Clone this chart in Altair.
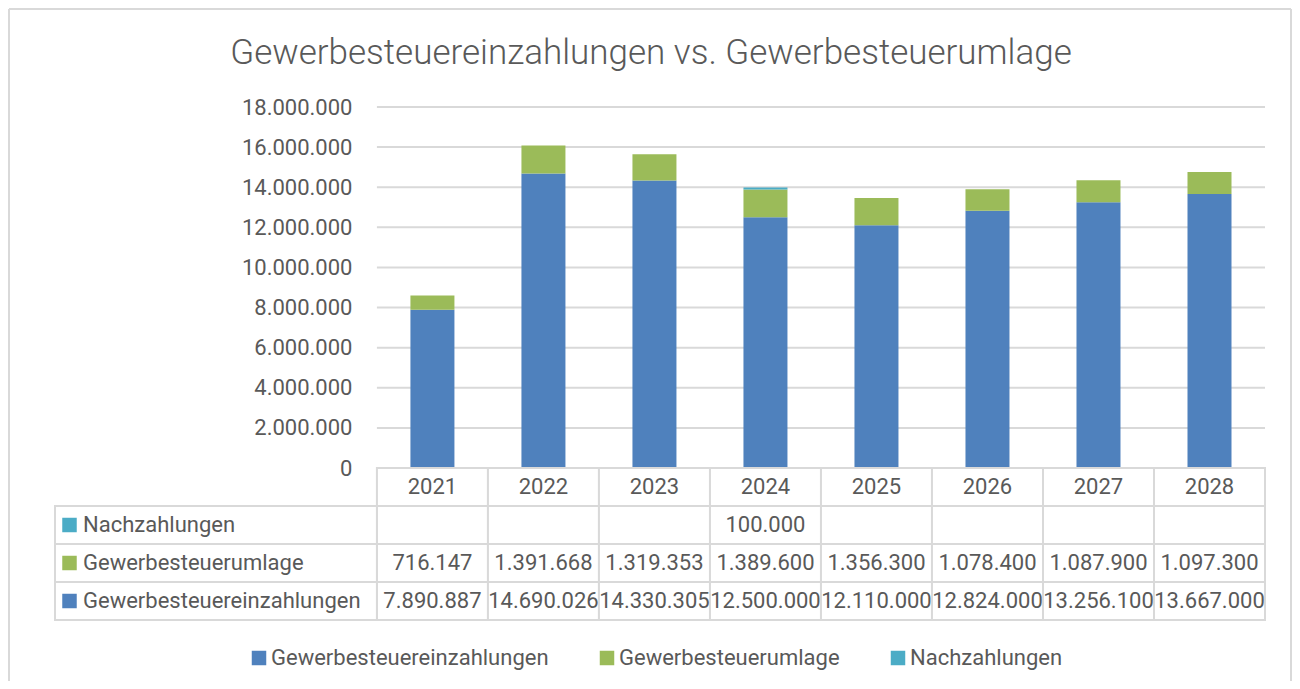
import altair as alt
import pandas as pd

# ---------------- data ----------------
YEARS = ["2021", "2022", "2023", "2024", "2025", "2026", "2027", "2028"]
SERIES = ["Gewerbesteuereinzahlungen", "Gewerbesteuerumlage", "Nachzahlungen"]
EINZAHLUNGEN = [7890887, 14690026, 14330305, 12500000, 12110000, 12824000, 13256100, 13667000]
UMLAGE = [716147, 1391668, 1319353, 1389600, 1356300, 1078400, 1087900, 1097300]
NACHZAHLUNGEN = [None, None, None, 100000, None, None, None, None]
Y_TICKS = [0, 2000000, 4000000, 6000000, 8000000, 10000000, 12000000, 14000000, 16000000, 18000000]
TITLE = "Gewerbesteuereinzahlungen vs. Gewerbesteuerumlage"
HEADER_ROW = "Jahr"

# ---------------- style / layout ----------------
COLORS = ["#4F81BD", "#9BBB59", "#4BACC6"]
TEXT = "#595959"
LINE = "#D9D9D9"
FONT = "Roboto"
FS = 22
N = len(YEARS)
LABEL_COLS = 2.9          # width of the label column, in year-column units
W = 1210
VALUE_H = 361
ROW_H = 38
LABEL_W_PX = W * LABEL_COLS / (N + LABEL_COLS)


def de(v):
    return f"{v:,}".replace(",", ".")


values = dict(zip(SERIES, [EINZAHLUNGEN, UMLAGE, NACHZAHLUNGEN]))

rows = []
for s_i, s in enumerate(SERIES):
    for c, (yr, v) in enumerate(zip(YEARS, values[s])):
        if v is not None:
            rows.append(dict(series=s, order=s_i, col=c, year=yr, value=v))
df = pd.DataFrame(rows)

TABLE_ROWS = [HEADER_ROW] + SERIES[::-1]
cells = []
for c, yr in enumerate(YEARS):
    cells.append(dict(row=HEADER_ROW, col=c, text=yr))
for s in SERIES:
    for c, v in enumerate(values[s]):
        cells.append(dict(row=s, col=c, text=de(v) if v is not None else ""))
cells_df = pd.DataFrame(cells)
label_df = pd.DataFrame({"row": SERIES})
grid_df = pd.DataFrame({"tick": Y_TICKS})
frame_df = pd.DataFrame({"f": [0]})


def xs():
    return alt.Scale(domain=[-LABEL_COLS, N], range=[0, W], nice=False, zero=False, padding=0)


def vs():
    return alt.Scale(domain=[0, Y_TICKS[-1]], range=[VALUE_H, 0], nice=False, zero=True)


def rs():
    return alt.Scale(type="band", domain=TABLE_ROWS,
                     range=[VALUE_H, VALUE_H + ROW_H * len(TABLE_ROWS)],
                     paddingInner=0, paddingOuter=0)


# ---------------- value part ----------------
grid = alt.Chart(grid_df).mark_rule(color=LINE, strokeWidth=2).encode(
    y=alt.Y("tick:Q", scale=vs(),
            axis=alt.Axis(values=Y_TICKS, offset=-LABEL_W_PX, ticks=False, domain=False, grid=False,
                          labelPadding=25, labelFont=FONT, labelFontSize=FS, labelColor=TEXT,
                          labelLimit=400, title=None,
                          labelExpr="replace(format(datum.value, ','), regexp(',', 'g'), '.')")),
    x=alt.X("zero:Q", scale=xs(), axis=None),
    x2="n:Q",
).transform_calculate(zero="0", n=str(N))

bars = alt.Chart(df).transform_calculate(center="datum.col + 0.5").mark_bar(size=44).encode(
    x=alt.X("center:Q", scale=xs(), axis=None),
    y=alt.Y("value:Q", scale=vs(), stack="zero", axis=None),
    color=alt.Color("series:N", scale=alt.Scale(domain=SERIES, range=COLORS),
                    legend=alt.Legend(orient="none", legendX=193, legendY=540, direction="horizontal",
                                      title=None, symbolType="square", symbolSize=210,
                                      symbolStrokeWidth=0, labelFont=FONT, labelFontSize=FS,
                                      labelColor=TEXT, labelLimit=500, columnPadding=47,
                                      labelOffset=1)),
    order=alt.Order("order:Q", sort="ascending"),
)

# ---------------- table part ----------------
cell_rects = alt.Chart(cells_df).transform_calculate(col_end="datum.col + 1").mark_rect(
    fill="white", stroke=LINE, strokeWidth=2
).encode(
    x=alt.X("col:Q", scale=xs(), axis=None),
    x2="col_end:Q",
    y=alt.Y("row:N", scale=rs(), axis=None),
)

label_rects = alt.Chart(label_df).transform_calculate(
    x0=str(-LABEL_COLS), x1="0"
).mark_rect(fill="white", stroke=LINE, strokeWidth=2).encode(
    x=alt.X("x0:Q", scale=xs(), axis=None),
    x2="x1:Q",
    y=alt.Y("row:N", scale=rs(), axis=None),
)

cell_text = alt.Chart(cells_df).transform_calculate(center="datum.col + 0.5").mark_text(
    font=FONT, fontSize=FS, color=TEXT, baseline="middle"
).encode(
    x=alt.X("center:Q", scale=xs(), axis=None),
    y=alt.Y("row:N", scale=rs(), axis=None),
    text="text:N",
)

label_squares = alt.Chart(label_df).transform_calculate(
    x0=str(-LABEL_COLS)
).mark_square(size=210, filled=True, opacity=1, xOffset=14.5).encode(
    x=alt.X("x0:Q", scale=xs(), axis=None),
    y=alt.Y("row:N", scale=rs(), axis=None),
    fill=alt.Fill("row:N", scale=alt.Scale(domain=SERIES, range=COLORS), legend=None),
)

label_text = alt.Chart(label_df).transform_calculate(
    x0=str(-LABEL_COLS)
).mark_text(
    font=FONT, fontSize=FS, color=TEXT, align="left", baseline="middle", dx=28
).encode(
    x=alt.X("x0:Q", scale=xs(), axis=None),
    y=alt.Y("row:N", scale=rs(), axis=None),
    text="row:N",
)

# ---------------- chart frame (decoration) ----------------
frame_left = alt.Chart(frame_df).mark_rule(color=LINE, strokeWidth=2).encode(
    x=alt.value(-46), y=alt.value(-98), y2=alt.value(574))
frame_right = alt.Chart(frame_df).mark_rule(color=LINE, strokeWidth=2).encode(
    x=alt.value(1236), y=alt.value(-98), y2=alt.value(574))
frame_top = alt.Chart(frame_df).mark_rule(color=LINE, strokeWidth=2).encode(
    x=alt.value(-46), x2=alt.value(1236), y=alt.value(-98))

chart = alt.layer(
    frame_left, frame_right, frame_top,
    grid, bars, cell_rects, label_rects, cell_text, label_squares, label_text
).resolve_scale(y="independent").properties(
    width=W,
    height=VALUE_H + ROW_H * len(TABLE_ROWS),
    title=alt.TitleParams(TITLE, font=FONT, fontSize=35, fontWeight=300, color=TEXT,
                          anchor="middle", dx=-9, offset=-63),
    padding=0,
).configure_view(strokeWidth=0)

chart.save("out.html", embed_options={"renderer": "svg", "actions": False})
